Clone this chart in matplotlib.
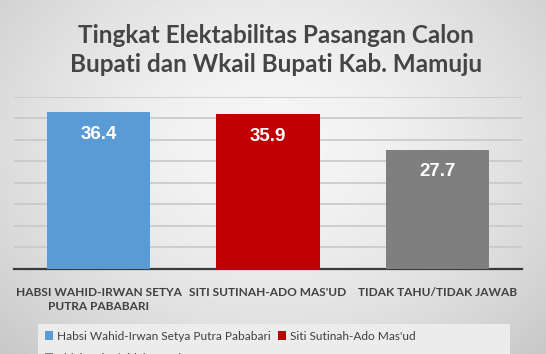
import numpy as np
import matplotlib
matplotlib.use("Agg")
import matplotlib.pyplot as plt
from matplotlib.patches import Rectangle, Patch

# data
categories = ["HABSI WAHID-IRWAN SETYA\nPUTRA PABABARI", "SITI SUTINAH-ADO MAS'UD", "TIDAK TAHU/TIDAK JAWAB"]
legend_names = ["Habsi Wahid-Irwan Setya Putra Pababari", "Siti Sutinah-Ado Mas'ud", "Tidak Tahu/Tidak Jawab"]
values = [36.4, 35.9, 27.7]
colors = ["#5B9BD5", "#C00000", "#7F7F7F"]
title = "Tingkat Elektabilitas Pasangan Calon\nBupati dan Wkail Bupati Kab. Mamuju"

fig = plt.figure(figsize=(5.46, 3.54), dpi=100)

# radial grey background like the slide
bg = fig.add_axes([0, 0, 1, 1], zorder=-10)
yy, xx = np.mgrid[0:1:200j, 0:1:300j]
r = np.sqrt(((xx - 0.5) / 0.75) ** 2 + ((yy - 0.6) / 0.9) ** 2)
shade = 0.965 - 0.2 * r ** 1.6
bg.imshow(shade, cmap="gray", vmin=0, vmax=1, extent=[0, 1, 0, 1], aspect="auto", origin="lower")
bg.set_axis_off()

ax = fig.add_axes([14 / 546, 85.3 / 354, 508 / 546, 172 / 354])
ax.patch.set_alpha(0)
x = np.arange(len(categories))
bars = ax.bar(x, values, width=0.61, color=colors, zorder=3)

for xi, v in zip(x, values):
    ax.annotate(f"{v}", (xi, v), xytext=(0, -16), textcoords="offset points",
                ha="center", va="center", color="white", fontsize=13.5,
                fontweight="bold", family="Liberation Sans", zorder=4)

ax.set_xlim(-0.5, 2.5)
ax.set_ylim(0, 40)
ax.set_yticks(np.arange(5, 41, 5))
ax.yaxis.grid(True, color="#c8c8c8", linewidth=1.2, zorder=0)
ax.tick_params(axis="y", left=False, labelleft=False)
ax.tick_params(axis="x", bottom=False, pad=10)
ax.set_xticks(x)
ax.set_xticklabels(categories, fontsize=8.6, fontweight="bold", color="#404040",
                   family="Lato", linespacing=1.3)
for s in ["top", "right", "left"]:
    ax.spines[s].set_visible(False)
ax.spines["bottom"].set_color("#3a3a3a")
ax.spines["bottom"].set_linewidth(1.6)

fig.text(0.505, 0.86, title, ha="center", va="center", fontsize=17.5,
         fontweight="bold", color="#454545", family="Lato", linespacing=1.32)

# legend box (partly cut off at the bottom edge)
fig.patches.append(Rectangle((38 / 546, -0.05), 472 / 546, (30 / 354) + 0.05,
                             transform=fig.transFigure, facecolor="#ececec",
                             edgecolor="none", zorder=-5))
handles = [Patch(facecolor=c) for c in colors]
order = [0, 2, 1]
fig.legend([handles[i] for i in order], [legend_names[i] for i in order],
           ncol=2, loc="upper left", bbox_to_anchor=(40 / 546, 28 / 354),
           frameon=False, handlelength=0.7, handleheight=0.7,
           handletextpad=0.3, columnspacing=0.6, labelspacing=0.9,
           borderaxespad=0, prop={"family": "Lato", "size": 8.6},
           labelcolor="#404040")

fig.savefig("out.png", dpi=100)
